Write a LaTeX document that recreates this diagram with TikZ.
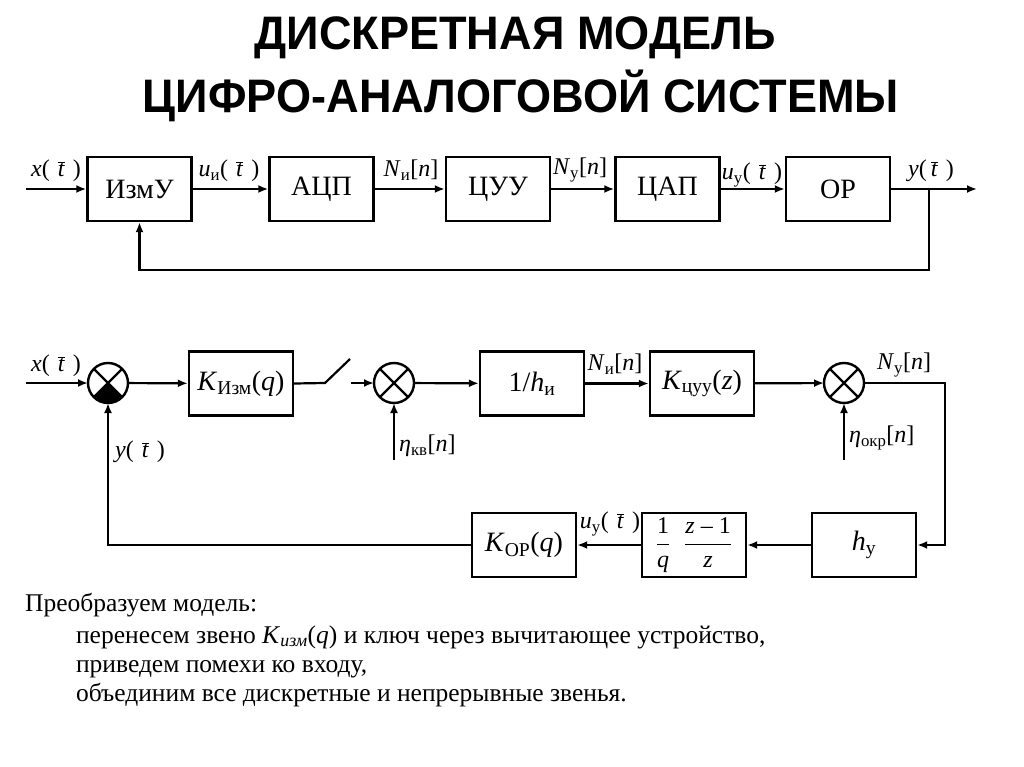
\documentclass[tikz,border=0pt]{standalone}
\usepackage{fontspec}
\setmainfont{Liberation Serif}
\newfontfamily\titlefont[FakeStretch=0.96]{Liberation Sans}
\usetikzlibrary{arrows.meta}
\newcommand{\tb}{$\overline{\mbox{\textit{t}}}$}

\begin{document}
\begin{tikzpicture}[x=1pt, y=-1pt, line width=2.2pt,
  block/.style={draw, line width=2.4pt, minimum width=104pt, minimum height=64pt, inner sep=0pt, font=\fontsize{28}{30}\selectfont},
  sum/.style={circle, draw, line width=2.4pt, minimum size=40pt, inner sep=0pt, outer sep=0pt},
  lbl/.style={font=\fontsize{24}{26}\selectfont, inner sep=1pt},
  txt/.style={anchor=base west, font=\fontsize{25.5}{28}\selectfont, inner sep=0pt},
  every path/.style={>={Latex[length=10pt, width=8pt]}}]
\useasboundingbox (0,0) rectangle (1024,767);

\node[font=\titlefont\bfseries\fontsize{47}{50}\selectfont] (title1) at (515,38) {ДИСКРЕТНАЯ МОДЕЛЬ};
\node[font=\titlefont\bfseries\fontsize{47}{50}\selectfont] (title2) at (521,96) {ЦИФРО-АНАЛОГОВОЙ СИСТЕМЫ};

\node[block] (izmu) at (139.5,189) {ИзмУ};
\node[block] (adc)  at (321.5,189) {АЦП};
\node[block] (cuu)  at (498,189)   {ЦУУ};
\node[block] (dac)  at (667.5,189) {ЦАП};
\node[block] (op)   at (838,189)   {ОР};

\coordinate (in1)  at (26,189);
\coordinate (out1) at (977,189);
\coordinate (br1)  at (929,189);

\draw[->] (in1) -- (izmu);
\draw[->] (izmu) -- (adc);
\draw[->] (adc) -- (cuu);
\draw[->] (cuu) -- (dac);
\draw[->] (dac) -- (op);
\draw[->] (op) -- (out1);
\draw[->] (br1) -- ++(0,81) -| (izmu.south);

\node[lbl] (lx1) at (56,171)  {\textit{x}(\,\,\tb\,\,)};
\node[lbl] (lu1) at (229,171) {\textit{u}\textsubscript{и}(\,\,\tb\,\,)};
\node[lbl] (ln1) at (411,170) {\textit{N}\textsubscript{и}[\textit{n}]};
\node[lbl] (ln2) at (580,170) {\textit{N}\textsubscript{у}[\textit{n}]};
\node[lbl] (lu2) at (752,175) {\textit{u}\textsubscript{у}(\,\,\tb\,\,)};
\node[lbl] (ly1) at (931,171) {\textit{y}(\,\tb\,\,)};

\node[sum] (s1) at (108,383) {};
\node[sum] (s2) at (394,383) {};
\node[sum] (s3) at (844,383) {};
\fill (s1.center) -- (s1.225) arc[start angle=225, end angle=315, radius=20pt] -- cycle;
\foreach \s in {s1,s2,s3} {
  \draw (\s.45) -- (\s.225);
  \draw (\s.135) -- (\s.315);
}

\node[block] (kizm) at (241,383.5) {\textit{K}\textsubscript{Изм}(\textit{q})};
\node[block] (hi)   at (532,383.5) {1/\textit{h}\textsubscript{и}};
\node[block] (kcuu) at (702,383.5) {\textit{K}\textsubscript{цуу}(\textit{z})};
\node[block] (hy)   at (864,545)   {\textit{h}\textsubscript{у}};
\node[block, font=\fontsize{24}{26}\selectfont] (frac) at (694,545)
  {$\displaystyle\frac{\mbox{1}}{\mbox{\textit{q}}}\;\;\frac{\mbox{\textit{z} – 1}}{\mbox{\textit{z}}}$};
\node[block] (kop)  at (524,545)   {\textit{K}\textsubscript{ОР}(\textit{q})};

\coordinate (in2) at (26,383);
\coordinate (sw1) at (325,383);
\coordinate (sw2) at (350,359);
\coordinate (sw3) at (351,383);
\coordinate (n1)  at (394,460);
\coordinate (n2)  at (844,460);
\coordinate (c1)  at (945,383);

\draw[->] (in2) -- (s1);
\draw[->] (s1) -- (kizm);
\draw (kizm.east) -- (sw1) -- (sw2);
\draw[->] (sw3) -- (s2);
\draw[->] (s2) -- (hi);
\draw[->] (hi) -- (kcuu);
\draw[->] (kcuu) -- (s3);
\draw[->] (n1) -- (s2.south);
\draw[->] (n2) -- (s3.south);
\draw[->] (s3) -- (c1) |- (hy);
\draw[->] (hy) -- (frac);
\draw[->] (frac) -- (kop);
\draw[->] (kop) -| (s1.south);

\node[lbl] (lx2) at (56,366) {\textit{x}(\,\,\tb\,\,)};
\node[lbl, anchor=west] (ly2) at (113,452) {\textit{y}(\,\,\tb\,\,)};
\node[lbl, anchor=west] (le1) at (397,446) {\textit{η}\textsubscript{кв}[\textit{n}]};
\node[lbl] (ln3) at (615,364) {\textit{N}\textsubscript{и}[\textit{n}]};
\node[lbl] (ln4) at (904,365) {\textit{N}\textsubscript{у}[\textit{n}]};
\node[lbl, anchor=west] (le2) at (847,438) {\textit{η}\textsubscript{окр}[\textit{n}]};
\node[lbl] (lu3) at (610,524) {\textit{u}\textsubscript{у}(\,\,\tb\,\,)};

\node[txt] (t0) at (24,611) {Преобразуем модель:};
\node[txt] (t1) at (75,643)
  {перенесем звено \textit{K}\textsubscript{\textit{изм}}(\textit{q}) и ключ через вычитающее устройство,};
\node[txt] (t2) at (75,672) {приведем помехи ко входу,};
\node[txt] (t3) at (75,701) {объединим все дискретные и непрерывные звенья.};
\end{tikzpicture}
\end{document}
